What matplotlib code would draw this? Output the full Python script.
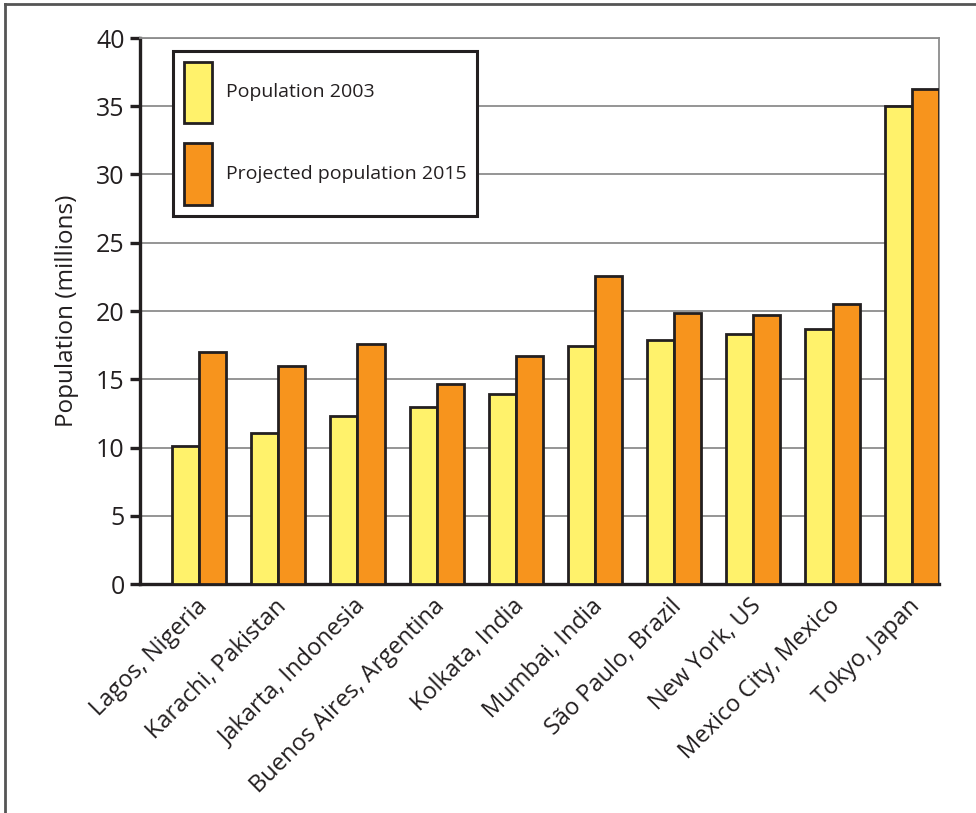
import matplotlib.pyplot as plt
import matplotlib.transforms as mtransforms
import numpy as np
from matplotlib.lines import Line2D

plt.rcParams["font.family"] = ["Open Sans", "DejaVu Sans"]

# %% data
cities = [
    "Lagos, Nigeria",
    "Karachi, Pakistan",
    "Jakarta, Indonesia",
    "Buenos Aires, Argentina",
    "Kolkata, India",
    "Mumbai, India",
    "São Paulo, Brazil",
    "New York, US",
    "Mexico City, Mexico",
    "Tokyo, Japan",
]
pop_2003 = [10.1, 11.05, 12.3, 13.0, 13.9, 17.4, 17.9, 18.3, 18.7, 35.0]
pop_2015 = [17.0, 16.0, 17.6, 14.65, 16.7, 22.6, 19.85, 19.7, 20.5, 36.3]
y_ticks = [0, 5, 10, 15, 20, 25, 30, 35, 40]

yellow = "#fff26b"
orange = "#f7941d"
dark = "#231f20"
grid_grey = "#8c8c8c"

# %% figure
W, H = 976, 813
fig = plt.figure(figsize=(W / 100, H / 100), dpi=100)
ax = fig.add_axes([140 / W, 1 - 584 / H, 799 / W, 546 / H])

x = np.arange(len(cities))
bw = 0.342
ax.bar(x - bw / 2, pop_2003, bw, color=yellow, edgecolor=dark, linewidth=2.0,
       label="Population 2003", zorder=3)
ax.bar(x + bw / 2, pop_2015, bw, color=orange, edgecolor=dark, linewidth=2.0,
       label="Projected population 2015", zorder=3)

ax.set_xlim(-0.746, 9.345)
ax.set_ylim(0, 40)
ax.set_yticks(y_ticks)
ax.yaxis.grid(True, color=grid_grey, linewidth=1.3, zorder=0)
ax.set_axisbelow(True)

ax.spines["left"].set_color(dark)
ax.spines["left"].set_linewidth(2.4)
ax.spines["bottom"].set_color(dark)
ax.spines["bottom"].set_linewidth(2.4)
ax.spines["top"].set_color(grid_grey)
ax.spines["top"].set_linewidth(1.3)
ax.spines["right"].set_color(grid_grey)
ax.spines["right"].set_linewidth(1.3)

ax.tick_params(axis="y", direction="out", length=7, width=2.4, color=dark,
               labelsize=18, labelcolor=dark, pad=4)
ax.tick_params(axis="x", length=0, pad=1)

ax.set_xticks(x)
ax.set_xticklabels(cities, rotation=45, ha="right", rotation_mode="anchor",
                   fontsize=17, color=dark)
# nudge the rotated labels so their ends sit just under each group
offset = mtransforms.ScaledTranslation(-4 / 100, -9 / 100, fig.dpi_scale_trans)
for lbl in ax.get_xticklabels():
    lbl.set_transform(lbl.get_transform() + offset)

ax.set_ylabel("Population (millions)", fontsize=17.5, color=dark, labelpad=12)

leg = ax.legend(
    loc="upper left",
    bbox_to_anchor=(173 / W, 1 - 51 / H),
    bbox_transform=fig.transFigure,
    borderaxespad=0,
    fontsize=14,
    handleheight=4.5,
    handlelength=1.44,
    labelspacing=1.03,
    handletextpad=0.72,
    borderpad=0.55,
    fancybox=False,
    framealpha=1,
    edgecolor=dark,
)
leg.get_frame().set_linewidth(2.2)
for t in leg.get_texts():
    t.set_color(dark)

# outer frame of the figure (cut at right and bottom)
fig.add_artist(Line2D([5 / W, 5 / W], [0, 1 - 4 / H], color="#555555",
                      linewidth=2, transform=fig.transFigure))
fig.add_artist(Line2D([5 / W, 1], [1 - 4 / H, 1 - 4 / H], color="#555555",
                      linewidth=2, transform=fig.transFigure))

fig.savefig("out.png", dpi=100)
